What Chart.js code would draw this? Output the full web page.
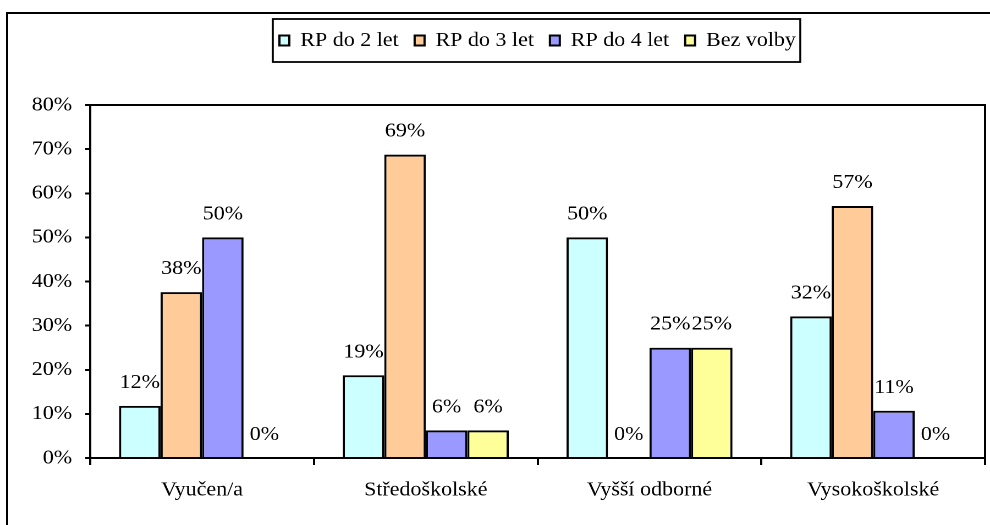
<!DOCTYPE html>
<html>
<head>
<meta charset="utf-8">
<script src="https://cdn.jsdelivr.net/npm/chart.js@4.4.0/dist/chart.umd.min.js"></script>
<style>
  html, body { margin: 0; padding: 0; background: #fff; overflow: hidden; }
  #wrap { position: relative; width: 990px; height: 525px; }
  #frame { position: absolute; left: 6px; top: 12px; width: 1100px; height: 700px; border: 2px solid #000; }
  #chart { position: absolute; left: 0; top: 0; }
</style>
</head>
<body>
<div id="wrap">
  <div id="frame"></div>
  <!-- the original text is a little wide, so the canvas is drawn at 900px and widened to 990px by css -->
  <canvas id="chart" width="900" height="525" style="width:990px;height:525px"></canvas>
</div>
<script>
var categories = ['Vyučen/a', 'Středoškolské', 'Vyšší odborné', 'Vysokoškolské'];
var seriesNames = ['RP do 2 let', 'RP do 3 let', 'RP do 4 let', 'Bez volby'];
var rp2 = [11.8, 18.75, 50, 32.1];
var rp3 = [37.6, 68.75, 0, 57.1];
var rp4 = [50, 6.25, 25, 10.7];
var bezVolby = [0, 6.25, 25, 0];
var yMax = 80;
var yStep = 10;

var seriesColors = ['#CCFFFF', '#FFCC99', '#9999FF', '#FFFF99'];

(function() {
  if (typeof Chart === 'undefined') return;

  var FONT = "'Liberation Serif', 'Times New Roman', serif";
  var FS = 20;
  Chart.defaults.font.family = FONT;
  Chart.defaults.font.size = FS;
  Chart.defaults.color = '#000';

  var LEGEND_PAD = 14.5;

  // value labels above each bar
  var barLabels = {
    id: 'barLabels',
    afterDatasetsDraw: function(chart) {
      var ctx = chart.ctx;
      ctx.save();
      ctx.font = FS + 'px ' + FONT;
      ctx.fillStyle = '#000';
      ctx.textAlign = 'center';
      ctx.textBaseline = 'alphabetic';
      chart.data.datasets.forEach(function(ds, i) {
        chart.getDatasetMeta(i).data.forEach(function(bar, j) {
          ctx.fillText(Math.round(ds.data[j]) + '%', bar.x, bar.y - 18);
        });
      });
      ctx.restore();
    }
  };

  // top and right edges of the plot area, box round the legend
  var frames = {
    id: 'frames',
    afterDraw: function(chart) {
      var ctx = chart.ctx, a = chart.chartArea;
      ctx.save();
      ctx.strokeStyle = '#000';
      ctx.lineWidth = 2;
      ctx.beginPath();
      ctx.moveTo(a.left, a.top);
      ctx.lineTo(a.right, a.top);
      ctx.lineTo(a.right, a.bottom);
      ctx.stroke();

      var lg = chart.legend;
      if (lg && lg.legendHitBoxes && lg.legendHitBoxes.length) {
        var l = Infinity, r = -Infinity;
        lg.legendHitBoxes.forEach(function(h) {
          l = Math.min(l, h.left);
          r = Math.max(r, h.left + h.width);
        });
        var mid = lg.top + LEGEND_PAD + FS / 2;
        ctx.lineWidth = 1.8;
        ctx.strokeRect(l - 6, mid - 21.5, (r + 4) - (l - 6), 43);
      }
      ctx.restore();
    }
  };

  var el = document.getElementById('chart');
  new Chart(el.getContext('2d'), {
    type: 'bar',
    data: {
      labels: categories,
      datasets: [
        { label: seriesNames[0], data: rp2, backgroundColor: seriesColors[0] },
        { label: seriesNames[1], data: rp3, backgroundColor: seriesColors[1] },
        { label: seriesNames[2], data: rp4, backgroundColor: seriesColors[2] },
        { label: seriesNames[3], data: bezVolby, backgroundColor: seriesColors[3] }
      ].map(function(d) {
        return Object.assign(d, { borderColor: '#000', borderWidth: 2, categoryPercentage: 0.742, barPercentage: 1 });
      })
    },
    options: {
      responsive: false,
      animation: false,
      devicePixelRatio: 2,
      layout: { padding: { top: 16, left: 0, right: 4.5, bottom: 0 } },
      plugins: {
        legend: {
          position: 'top',
          fullSize: false,
          labels: { boxWidth: 9, boxHeight: 10, padding: LEGEND_PAD, color: '#000', font: { size: FS } }
        },
        tooltip: { enabled: false }
      },
      scales: {
        x: {
          grid: { display: true, drawOnChartArea: false, offset: true, color: '#000', lineWidth: 2, tickLength: 7 },
          border: { color: '#000', width: 2 },
          ticks: { color: '#000', padding: 13, maxRotation: 0, autoSkip: false },
          afterFit: function(s) { s.height = 67; }
        },
        x2: {
          position: 'top',
          grid: { display: false },
          border: { display: false },
          ticks: { display: false },
          afterFit: function(s) { s.height = 44.5; }
        },
        y: {
          min: 0,
          max: yMax,
          grid: { display: true, drawOnChartArea: false, color: '#000', lineWidth: 2, tickLength: 4.5 },
          border: { color: '#000', width: 2 },
          ticks: { stepSize: yStep, color: '#000', padding: 12, callback: function(v) { return v + '%'; } },
          afterFit: function(s) { s.width = 82; }
        }
      }
    },
    plugins: [barLabels, frames]
  });
})();
</script>
</body>
</html>
